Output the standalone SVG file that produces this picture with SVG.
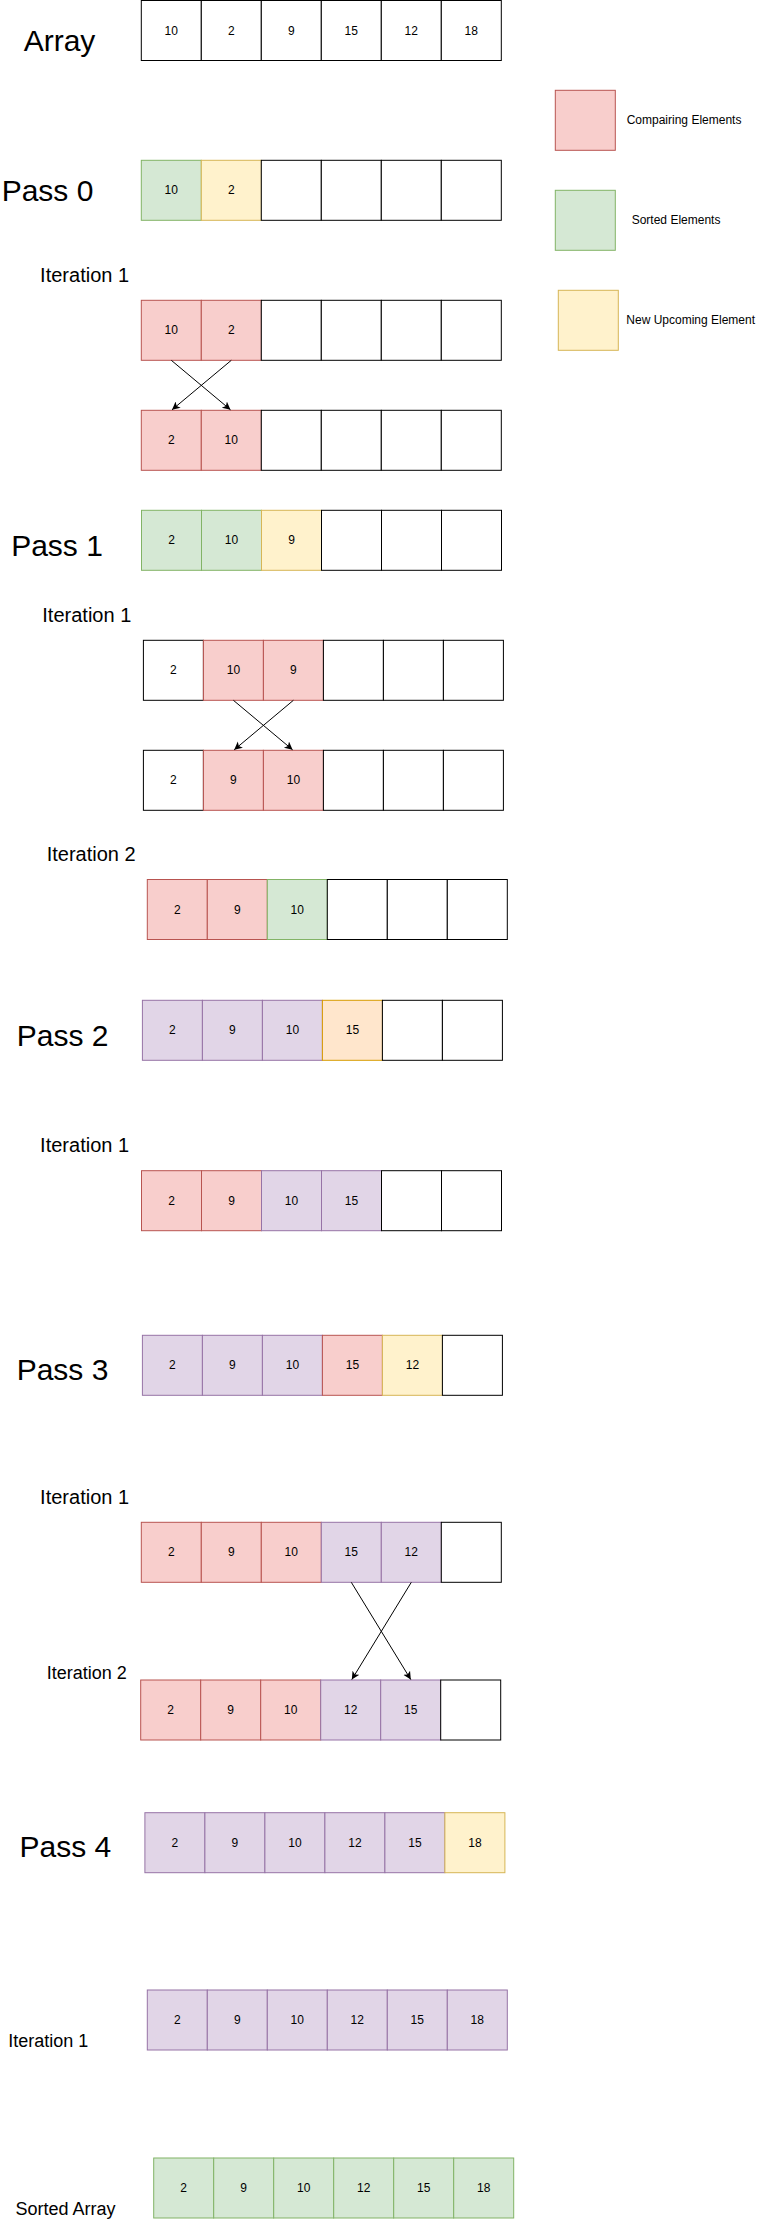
<svg xmlns="http://www.w3.org/2000/svg" width="766" height="2219" viewBox="0 0 766 2219">
<style>
rect{stroke-width:1}
.w{fill:#ffffff;stroke:#000000}
.r{fill:#f8cecc;stroke:#b85450}
.g{fill:#d5e8d4;stroke:#82b366}
.y{fill:#fff2cc;stroke:#d6b656}
.p{fill:#e1d5e7;stroke:#9673a6}
.o{fill:#ffe6cc;stroke:#d79b00}
text{font-family:"Liberation Sans",Arial,sans-serif;fill:#000000}
.n{font-size:12px;text-anchor:middle}
.big{font-size:30px;text-anchor:middle}
.mid{font-size:20px;text-anchor:middle}
.sm{font-size:18px;text-anchor:middle}
.leg{font-size:12px}
.conn line{stroke:#000000;stroke-width:1;fill:none;marker-end:url(#ah)}
</style>
<defs>
<marker id="ah" markerWidth="10" markerHeight="10" refX="8" refY="4" orient="auto" markerUnits="userSpaceOnUse">
<path d="M0,0 L8,4 L0,8 L2,4 z" fill="#000000"/>
</marker>
</defs>
<rect x="0" y="0" width="766" height="2219" fill="#ffffff"/>

<g id="labels">
<text class="big" x="59.5" y="51">Array</text>
<text class="big" x="47.5" y="200.7">Pass 0</text>
<text class="mid" x="84.6" y="281.7">Iteration 1</text>
<text class="big" x="57" y="555.7">Pass 1</text>
<text class="mid" x="86.8" y="622.3">Iteration 1</text>
<text class="mid" x="91.2" y="860.7">Iteration 2</text>
<text class="big" x="62.7" y="1045.7">Pass 2</text>
<text class="mid" x="84.6" y="1151.7">Iteration 1</text>
<text class="big" x="62.5" y="1380">Pass 3</text>
<text class="mid" x="84.6" y="1504">Iteration 1</text>
<text class="sm" x="86.8" y="1679.3">Iteration 2</text>
<text class="big" x="65.3" y="1857.3">Pass 4</text>
<text class="sm" x="48.3" y="2046.7">Iteration 1</text>
<text class="sm" x="65.4" y="2215">Sorted Array</text>
</g>

<g id="legend">
<g id="legend-compare">
<rect class="r" x="555.3" y="90.3" width="60" height="60"/>
<text class="leg" x="626.7" y="124">Compairing Elements</text>
</g>
<g id="legend-sorted">
<rect class="g" x="555.3" y="190.3" width="60" height="60"/>
<text class="leg" x="631.7" y="224">Sorted Elements</text>
</g>
<g id="legend-new">
<rect class="y" x="558.3" y="290.3" width="60" height="60"/>
<text class="leg" x="626.3" y="324">New Upcoming Element</text>
</g>
</g>

<g id="array" transform="translate(141.3,0.5)">
<rect class="w" x="0" y="0" width="60" height="60"/><text class="n" x="30" y="34">10</text>
<rect class="w" x="60" y="0" width="60" height="60"/><text class="n" x="90" y="34">2</text>
<rect class="w" x="120" y="0" width="60" height="60"/><text class="n" x="150" y="34">9</text>
<rect class="w" x="180" y="0" width="60" height="60"/><text class="n" x="210" y="34">15</text>
<rect class="w" x="240" y="0" width="60" height="60"/><text class="n" x="270" y="34">12</text>
<rect class="w" x="300" y="0" width="60" height="60"/><text class="n" x="330" y="34">18</text>
</g>

<g id="pass0" transform="translate(141.3,160.3)">
<rect class="g" x="0" y="0" width="60" height="60"/><text class="n" x="30" y="34">10</text>
<rect class="y" x="60" y="0" width="60" height="60"/><text class="n" x="90" y="34">2</text>
<rect class="w" x="120" y="0" width="60" height="60"/>
<rect class="w" x="180" y="0" width="60" height="60"/>
<rect class="w" x="240" y="0" width="60" height="60"/>
<rect class="w" x="300" y="0" width="60" height="60"/>
</g>

<g id="pass0-it1-before" transform="translate(141.3,300.3)">
<rect class="r" x="0" y="0" width="60" height="60"/><text class="n" x="30" y="34">10</text>
<rect class="r" x="60" y="0" width="60" height="60"/><text class="n" x="90" y="34">2</text>
<rect class="w" x="120" y="0" width="60" height="60"/>
<rect class="w" x="180" y="0" width="60" height="60"/>
<rect class="w" x="240" y="0" width="60" height="60"/>
<rect class="w" x="300" y="0" width="60" height="60"/>
</g>

<g id="pass0-it1-after" transform="translate(141.3,410.3)">
<rect class="r" x="0" y="0" width="60" height="60"/><text class="n" x="30" y="34">2</text>
<rect class="r" x="60" y="0" width="60" height="60"/><text class="n" x="90" y="34">10</text>
<rect class="w" x="120" y="0" width="60" height="60"/>
<rect class="w" x="180" y="0" width="60" height="60"/>
<rect class="w" x="240" y="0" width="60" height="60"/>
<rect class="w" x="300" y="0" width="60" height="60"/>
</g>

<g id="pass1" transform="translate(141.5,510.3)">
<rect class="g" x="0" y="0" width="60" height="60"/><text class="n" x="30" y="34">2</text>
<rect class="g" x="60" y="0" width="60" height="60"/><text class="n" x="90" y="34">10</text>
<rect class="y" x="120" y="0" width="60" height="60"/><text class="n" x="150" y="34">9</text>
<rect class="w" x="180" y="0" width="60" height="60"/>
<rect class="w" x="240" y="0" width="60" height="60"/>
<rect class="w" x="300" y="0" width="60" height="60"/>
</g>

<g id="pass1-it1-before" transform="translate(143.4,640.3)">
<rect class="w" x="0" y="0" width="60" height="60"/><text class="n" x="30" y="34">2</text>
<rect class="r" x="60" y="0" width="60" height="60"/><text class="n" x="90" y="34">10</text>
<rect class="r" x="120" y="0" width="60" height="60"/><text class="n" x="150" y="34">9</text>
<rect class="w" x="180" y="0" width="60" height="60"/>
<rect class="w" x="240" y="0" width="60" height="60"/>
<rect class="w" x="300" y="0" width="60" height="60"/>
</g>

<g id="pass1-it1-after" transform="translate(143.4,750.3)">
<rect class="w" x="0" y="0" width="60" height="60"/><text class="n" x="30" y="34">2</text>
<rect class="r" x="60" y="0" width="60" height="60"/><text class="n" x="90" y="34">9</text>
<rect class="r" x="120" y="0" width="60" height="60"/><text class="n" x="150" y="34">10</text>
<rect class="w" x="180" y="0" width="60" height="60"/>
<rect class="w" x="240" y="0" width="60" height="60"/>
<rect class="w" x="300" y="0" width="60" height="60"/>
</g>

<g id="pass1-it2" transform="translate(147.3,879.5)">
<rect class="r" x="0" y="0" width="60" height="60"/><text class="n" x="30" y="34">2</text>
<rect class="r" x="60" y="0" width="60" height="60"/><text class="n" x="90" y="34">9</text>
<rect class="g" x="120" y="0" width="60" height="60"/><text class="n" x="150" y="34">10</text>
<rect class="w" x="180" y="0" width="60" height="60"/>
<rect class="w" x="240" y="0" width="60" height="60"/>
<rect class="w" x="300" y="0" width="60" height="60"/>
</g>

<g id="pass2" transform="translate(142.4,1000.3)">
<rect class="p" x="0" y="0" width="60" height="60"/><text class="n" x="30" y="34">2</text>
<rect class="p" x="60" y="0" width="60" height="60"/><text class="n" x="90" y="34">9</text>
<rect class="p" x="120" y="0" width="60" height="60"/><text class="n" x="150" y="34">10</text>
<rect class="o" x="180" y="0" width="60" height="60"/><text class="n" x="210" y="34">15</text>
<rect class="w" x="240" y="0" width="60" height="60"/>
<rect class="w" x="300" y="0" width="60" height="60"/>
</g>

<g id="pass2-it1" transform="translate(141.5,1170.7)">
<rect class="r" x="0" y="0" width="60" height="60"/><text class="n" x="30" y="34">2</text>
<rect class="r" x="60" y="0" width="60" height="60"/><text class="n" x="90" y="34">9</text>
<rect class="p" x="120" y="0" width="60" height="60"/><text class="n" x="150" y="34">10</text>
<rect class="p" x="180" y="0" width="60" height="60"/><text class="n" x="210" y="34">15</text>
<rect class="w" x="240" y="0" width="60" height="60"/>
<rect class="w" x="300" y="0" width="60" height="60"/>
</g>

<g id="pass3" transform="translate(142.4,1335.3)">
<rect class="p" x="0" y="0" width="60" height="60"/><text class="n" x="30" y="34">2</text>
<rect class="p" x="60" y="0" width="60" height="60"/><text class="n" x="90" y="34">9</text>
<rect class="p" x="120" y="0" width="60" height="60"/><text class="n" x="150" y="34">10</text>
<rect class="r" x="180" y="0" width="60" height="60"/><text class="n" x="210" y="34">15</text>
<rect class="y" x="240" y="0" width="60" height="60"/><text class="n" x="270" y="34">12</text>
<rect class="w" x="300" y="0" width="60" height="60"/>
</g>

<g id="pass3-it1" transform="translate(141.3,1522.3)">
<rect class="r" x="0" y="0" width="60" height="60"/><text class="n" x="30" y="34">2</text>
<rect class="r" x="60" y="0" width="60" height="60"/><text class="n" x="90" y="34">9</text>
<rect class="r" x="120" y="0" width="60" height="60"/><text class="n" x="150" y="34">10</text>
<rect class="p" x="180" y="0" width="60" height="60"/><text class="n" x="210" y="34">15</text>
<rect class="p" x="240" y="0" width="60" height="60"/><text class="n" x="270" y="34">12</text>
<rect class="w" x="300" y="0" width="60" height="60"/>
</g>

<g id="pass3-it2" transform="translate(140.7,1680)">
<rect class="r" x="0" y="0" width="60" height="60"/><text class="n" x="30" y="34">2</text>
<rect class="r" x="60" y="0" width="60" height="60"/><text class="n" x="90" y="34">9</text>
<rect class="r" x="120" y="0" width="60" height="60"/><text class="n" x="150" y="34">10</text>
<rect class="p" x="180" y="0" width="60" height="60"/><text class="n" x="210" y="34">12</text>
<rect class="p" x="240" y="0" width="60" height="60"/><text class="n" x="270" y="34">15</text>
<rect class="w" x="300" y="0" width="60" height="60"/>
</g>

<g id="pass4" transform="translate(144.9,1812.7)">
<rect class="p" x="0" y="0" width="60" height="60"/><text class="n" x="30" y="34">2</text>
<rect class="p" x="60" y="0" width="60" height="60"/><text class="n" x="90" y="34">9</text>
<rect class="p" x="120" y="0" width="60" height="60"/><text class="n" x="150" y="34">10</text>
<rect class="p" x="180" y="0" width="60" height="60"/><text class="n" x="210" y="34">12</text>
<rect class="p" x="240" y="0" width="60" height="60"/><text class="n" x="270" y="34">15</text>
<rect class="y" x="300" y="0" width="60" height="60"/><text class="n" x="330" y="34">18</text>
</g>

<g id="pass4-it1" transform="translate(147.3,1990)">
<rect class="p" x="0" y="0" width="60" height="60"/><text class="n" x="30" y="34">2</text>
<rect class="p" x="60" y="0" width="60" height="60"/><text class="n" x="90" y="34">9</text>
<rect class="p" x="120" y="0" width="60" height="60"/><text class="n" x="150" y="34">10</text>
<rect class="p" x="180" y="0" width="60" height="60"/><text class="n" x="210" y="34">12</text>
<rect class="p" x="240" y="0" width="60" height="60"/><text class="n" x="270" y="34">15</text>
<rect class="p" x="300" y="0" width="60" height="60"/><text class="n" x="330" y="34">18</text>
</g>

<g id="sorted" transform="translate(153.7,2158)">
<rect class="g" x="0" y="0" width="60" height="60"/><text class="n" x="30" y="34">2</text>
<rect class="g" x="60" y="0" width="60" height="60"/><text class="n" x="90" y="34">9</text>
<rect class="g" x="120" y="0" width="60" height="60"/><text class="n" x="150" y="34">10</text>
<rect class="g" x="180" y="0" width="60" height="60"/><text class="n" x="210" y="34">12</text>
<rect class="g" x="240" y="0" width="60" height="60"/><text class="n" x="270" y="34">15</text>
<rect class="g" x="300" y="0" width="60" height="60"/><text class="n" x="330" y="34">18</text>
</g>

<g id="connectors" class="conn">
<line x1="171.3" y1="360.3" x2="230.5" y2="409.8"/>
<line x1="231.3" y1="360.3" x2="172" y2="409.8"/>
<line x1="233.4" y1="700.3" x2="292.6" y2="749.8"/>
<line x1="293.4" y1="700.3" x2="234.2" y2="749.8"/>
<line x1="351.3" y1="1582.3" x2="410.8" y2="1679.6"/>
<line x1="411.3" y1="1582.3" x2="351.8" y2="1679.6"/>
</g>
</svg>
